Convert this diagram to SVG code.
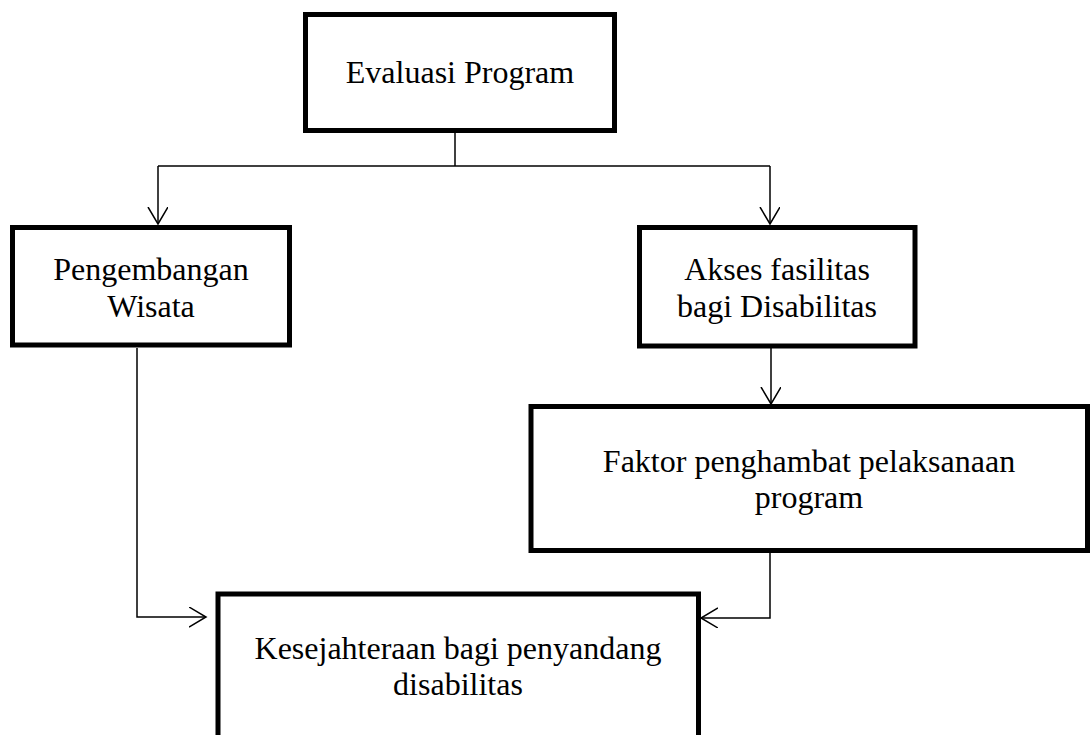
<svg xmlns="http://www.w3.org/2000/svg" width="1091" height="735" viewBox="0 0 1091 735">
<style>
.box{fill:#fff;stroke:#000;stroke-width:5}
.t{font-family:"Liberation Serif","Times New Roman",serif;font-size:32px;fill:#000;text-anchor:middle}
.c{fill:none;stroke:#000;stroke-width:1.5}
</style>
<defs>
<marker id="ah" markerUnits="userSpaceOnUse" markerWidth="20" markerHeight="22" refX="17" refY="10" orient="auto" viewBox="0 0 20 22">
<path d="M0,0 L17,10 L0,20" fill="none" stroke="#000" stroke-width="1.5"/>
</marker>
</defs>
<rect width="1091" height="735" fill="#fff"/>
<g id="connectors">
<path class="c" d="M455,133 V166"/>
<path class="c" d="M158,166 H770"/>
<path class="c" d="M158,166 V224" marker-end="url(#ah)"/>
<path class="c" d="M770,166 V224" marker-end="url(#ah)"/>
<path class="c" d="M771,348 V404" marker-end="url(#ah)"/>
<path class="c" d="M137,348 V617 H206" marker-end="url(#ah)"/>
<path class="c" d="M770,553 V618 H701" marker-end="url(#ah)"/>
</g>
<g id="evaluasi">
<rect class="box" x="305.5" y="14.5" width="309" height="116"/>
<text class="t" x="460" y="83">Evaluasi Program</text>
</g>
<g id="pengembangan">
<rect class="box" x="12.5" y="227.5" width="277" height="117.5"/>
<text class="t" x="151" y="280">Pengembangan</text>
<text class="t" x="151" y="317">Wisata</text>
</g>
<g id="akses">
<rect class="box" x="639.5" y="227.5" width="275.5" height="118.5"/>
<text class="t" x="777" y="280">Akses fasilitas</text>
<text class="t" x="777" y="317">bagi Disabilitas</text>
</g>
<g id="faktor">
<rect class="box" x="531" y="406.5" width="556.5" height="144"/>
<text class="t" x="809" y="472">Faktor penghambat pelaksanaan</text>
<text class="t" x="809" y="508">program</text>
</g>
<g id="kesejahteraan">
<rect class="box" x="218" y="594" width="480.5" height="170"/>
<text class="t" x="458" y="659">Kesejahteraan bagi penyandang</text>
<text class="t" x="458" y="695">disabilitas</text>
</g>
</svg>
